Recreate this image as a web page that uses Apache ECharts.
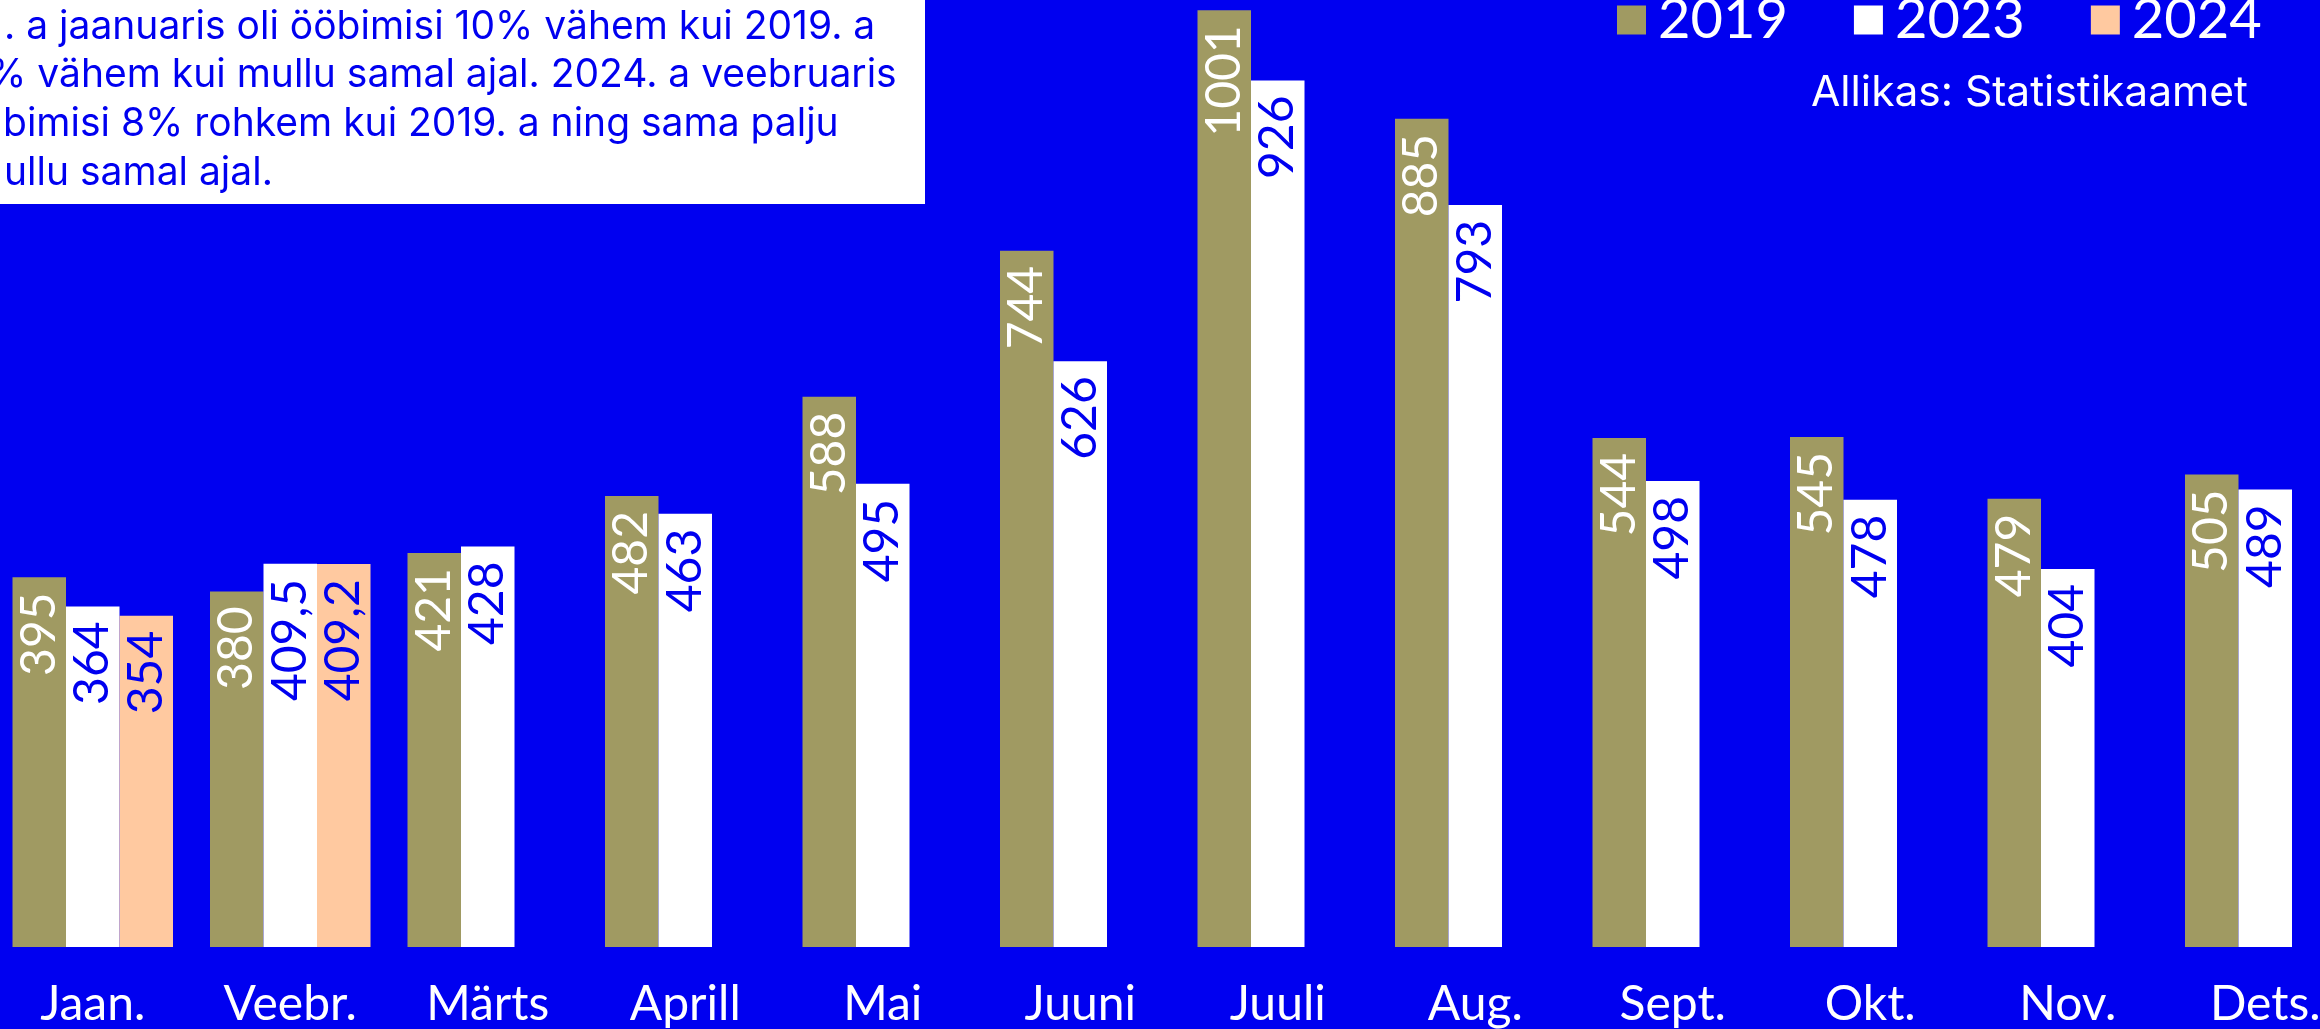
<!DOCTYPE html>
<html>
<head>
<meta charset="utf-8">
<script src="https://cdn.jsdelivr.net/npm/echarts@6/dist/echarts.min.js"></script>
<style>
html, body { margin: 0; padding: 0; background: #0000f0; overflow: hidden; }
#main { width: 2320px; height: 1029px; }
</style>
</head>
<body>
<div id="main"></div>
<script>
// kuud ja aastad
var months = ['Jaan.', 'Veebr.', 'Märts', 'Aprill', 'Mai', 'Juuni', 'Juuli', 'Aug.', 'Sept.', 'Okt.', 'Nov.', 'Dets.'];
var years = ['2019', '2023', '2024'];

// ööbimised (tuh)
var values2019 = [395, 380, 421, 482, 588, 744, 1001, 885, 544, 545, 479, 505];
var values2023 = [364, 409.5, 428, 463, 495, 626, 926, 793, 498, 478, 404, 489];
var values2024 = [354, 409.2, '-', '-', '-', '-', '-', '-', '-', '-', '-', '-'];

// kommentaari nähtav osa
var noteLines = [
    '. a jaanuaris oli ööbimisi 10% vähem kui 2019. a',
    '% vähem kui mullu samal ajal. 2024. a veebruaris',
    'bimisi 8% rohkem kui 2019. a ning sama palju',
    'ullu samal ajal.'
];
var sourceText = 'Allikas: Statistikaamet';

var blue = '#0000f0';
var colors = ['#a09a62', '#ffffff', '#ffc9a0'];
var labelColors = ['#ffffff', blue, blue];
var mainFont = 'Lato';
var noteFont = 'Inter';

function fmt(p) {
    return String(p.value).replace('.', ',');
}

function makeSeries(i, data) {
    return {
        name: years[i],
        type: 'bar',
        data: data,
        barWidth: 53.5,
        barGap: '0%',
        itemStyle: { color: colors[i] },
        label: {
            show: true,
            position: 'insideTop',
            distance: 15,
            rotate: 90,
            align: 'right',
            verticalAlign: 'middle',
            color: labelColors[i],
            fontFamily: mainFont,
            fontSize: 48,
            formatter: fmt
        }
    };
}

var noteGraphics = [{
    type: 'rect',
    shape: { x: -10, y: -10, width: 935, height: 214 },
    style: { fill: '#ffffff' }
}];
var noteX = [4, -12, 3, 4];
var noteY = [27, 75, 124, 173];
noteLines.forEach(function (t, i) {
    noteGraphics.push({
        type: 'text',
        x: noteX[i],
        y: noteY[i],
        style: {
            text: t,
            fill: blue,
            font: '39px ' + noteFont,
            textAlign: 'left',
            textVerticalAlign: 'middle'
        }
    });
});
noteGraphics.push({
    type: 'text',
    x: 2248,
    y: 93,
    style: {
        text: sourceText,
        fill: '#ffffff',
        font: '42.5px ' + noteFont,
        textAlign: 'right',
        textVerticalAlign: 'middle'
    }
});

var chart = echarts.init(document.getElementById('main'));
chart.setOption({
    backgroundColor: blue,
    animation: false,
    grid: { left: -6, top: 0, width: 2370, bottom: 82, containLabel: false, outerBoundsMode: 'none' },
    legend: {
        data: years,
        left: 1612,
        top: -13,
        itemWidth: 29,
        itemHeight: 29,
        itemGap: 66,
        icon: 'rect',
        textStyle: {
            color: '#ffffff',
            fontFamily: mainFont,
            fontSize: 56,
            lineHeight: 56,
            padding: [0, 0, 0, 7]
        }
    },
    xAxis: {
        type: 'category',
        data: months,
        axisLine: { show: false },
        axisTick: { show: false },
        axisLabel: {
            color: '#ffffff',
            fontFamily: mainFont,
            fontSize: 48,
            margin: 34,
            interval: 0
        }
    },
    yAxis: {
        type: 'value',
        min: 0,
        max: 1012,
        show: false,
        splitLine: { show: false }
    },
    graphic: noteGraphics,
    series: [
        makeSeries(0, values2019),
        makeSeries(1, values2023),
        makeSeries(2, values2024)
    ]
});
</script>
</body>
</html>
